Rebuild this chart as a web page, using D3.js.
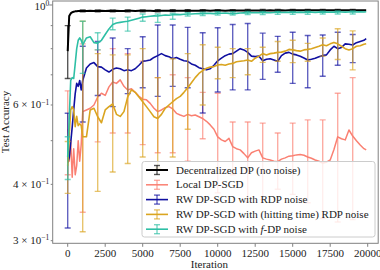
<!DOCTYPE html>
<html><head><meta charset="utf-8">
<script src="https://cdn.jsdelivr.net/npm/d3@7"></script>
<style>body{margin:0;background:#fff} svg{display:block}</style>
</head><body><svg id="c" width="380" height="270"></svg>
<script>
const iters = [0,100,200,300,400,500,600,700,800,900,1000,
1250,1500,1750,2000,2250,2500,2750,3000,
3250,3500,3750,4000,4250,4500,4750,5000,
5250,5500,5750,6000,6250,6500,6750,7000,
7250,7500,7750,8000,8250,8500,8750,9000,
9250,9500,9750,10000,10250,10500,10750,11000,
11250,11500,11750,12000,12250,12500,12750,13000,
13250,13500,13750,14000,14250,14500,14750,15000,
15250,15500,15750,16000,16250,16500,16750,17000,
17250,17500,17750,18000,18250,18500,18750,19000,
19250,19500,19750,19900];

const decentralized = [0.79,0.945,0.958,0.964,0.966,0.968,0.969,0.970,0.970,0.970,0.970,
0.970,0.971,0.970,0.970,0.971,0.970,0.971,0.970,
0.971,0.970,0.970,0.971,0.971,0.970,0.971,0.971,
0.971,0.971,0.970,0.971,0.971,0.971,0.971,0.971,
0.971,0.971,0.971,0.972,0.971,0.971,0.971,0.972,
0.972,0.971,0.972,0.972,0.972,0.971,0.972,0.972,
0.972,0.972,0.972,0.972,0.972,0.972,0.972,0.972,
0.972,0.973,0.972,0.972,0.973,0.972,0.973,0.973,
0.973,0.973,0.973,0.973,0.973,0.973,0.973,0.973,
0.973,0.973,0.973,0.974,0.973,0.973,0.974,0.974,
0.974,0.974,0.974,0.974];

const localDP = [0.53,0.45,0.50,0.415,0.48,0.42,0.44,0.50,0.45,0.49,0.58,
0.585,0.59,0.60,0.625,0.637,0.63,0.658,0.675,
0.67,0.682,0.66,0.648,0.652,0.64,0.627,0.618,
0.616,0.605,0.59,0.58,0.585,0.592,0.595,0.588,
0.575,0.57,0.566,0.572,0.568,0.57,0.565,0.56,
0.552,0.542,0.53,0.51,0.502,0.498,0.506,0.485,
0.48,0.477,0.468,0.458,0.47,0.474,0.477,0.458,
0.455,0.453,0.45,0.449,0.455,0.458,0.462,0.463,
0.465,0.466,0.464,0.46,0.457,0.453,0.45,0.446,
0.448,0.453,0.478,0.51,0.505,0.502,0.528,0.512,
0.50,0.489,0.48,0.477];

const rwRDP = [0.447,0.458,0.495,0.536,0.585,0.636,0.67,0.66,0.68,0.648,0.68,
0.725,0.74,0.745,0.73,0.728,0.718,0.71,0.72,
0.725,0.722,0.715,0.718,0.715,0.722,0.735,0.75,
0.752,0.755,0.765,0.772,0.78,0.772,0.768,0.76,
0.765,0.758,0.752,0.75,0.74,0.735,0.726,0.722,
0.718,0.722,0.735,0.752,0.762,0.772,0.778,0.78,
0.79,0.80,0.795,0.785,0.77,0.768,0.77,0.752,
0.758,0.76,0.755,0.75,0.772,0.782,0.785,0.778,
0.775,0.77,0.763,0.755,0.758,0.762,0.768,0.772,
0.775,0.795,0.81,0.80,0.805,0.82,0.818,0.815,
0.825,0.83,0.835,0.842];

const rwHitting = [0.44,0.515,0.585,0.595,0.585,0.537,0.566,0.54,0.545,0.54,0.51,
0.51,0.585,0.59,0.565,0.548,0.585,0.595,0.603,
0.572,0.566,0.58,0.625,0.648,0.64,0.625,0.61,
0.595,0.58,0.565,0.56,0.572,0.59,0.60,0.61,
0.62,0.627,0.64,0.655,0.672,0.69,0.705,0.715,
0.724,0.728,0.73,0.736,0.738,0.735,0.74,0.742,
0.748,0.75,0.752,0.755,0.75,0.762,0.77,0.78,
0.775,0.78,0.782,0.785,0.786,0.79,0.797,0.795,
0.792,0.79,0.795,0.797,0.80,0.805,0.81,0.816,
0.812,0.82,0.826,0.82,0.81,0.80,0.795,0.80,
0.81,0.812,0.818,0.82];

const rwFDP = [0.46,0.56,0.68,0.69,0.687,0.74,0.80,0.835,0.845,0.835,0.816,
0.845,0.85,0.825,0.823,0.835,0.86,0.885,0.905,
0.912,0.915,0.918,0.92,0.925,0.93,0.935,0.94,
0.942,0.944,0.946,0.945,0.948,0.95,0.949,0.951,
0.953,0.952,0.954,0.955,0.955,0.956,0.957,0.956,
0.958,0.958,0.957,0.959,0.959,0.96,0.958,0.957,
0.958,0.96,0.961,0.96,0.961,0.962,0.961,0.962,
0.962,0.961,0.962,0.963,0.962,0.963,0.963,0.962,
0.963,0.964,0.963,0.964,0.964,0.963,0.964,0.964,
0.964,0.965,0.964,0.965,0.965,0.964,0.965,0.965,
0.965,0.966,0.965,0.966];

// error bars every 1000 iterations
const errIters = [0,1000,2000,3000,4000,5000,6000,7000,8000,9000,10000,11000,12000,13000,14000,15000,16000,17000,18000,19000];
const decLo = [0.687,0.966,0.966,0.966,0.966,0.966,0.966,0.967,0.967,0.967,0.967,0.967,0.967,0.968,0.968,0.968,0.968,0.968,0.969,0.969];
const decHi = [0.90,0.975,0.975,0.975,0.975,0.975,0.976,0.976,0.976,0.976,0.976,0.976,0.977,0.977,0.977,0.977,0.977,0.978,0.978,0.978];
const localLo = [0.42,0.347,0.497,0.52,0.52,0.49,0.47,0.47,0.45,0.505,0.383,0.42,0.366,0.37,0.39,0.38,0.364,0.336,0.33,0.334];
const localHi = [0.645,0.82,0.795,0.80,0.78,0.75,0.69,0.70,0.69,0.64,0.637,0.55,0.55,0.547,0.52,0.547,0.556,0.556,0.637,0.69];
const rdpLo = [0.32,0.55,0.63,0.595,0.636,0.655,0.627,0.66,0.655,0.576,0.641,0.648,0.648,0.684,0.709,0.67,0.655,0.695,0.735,0.745];
const rdpHi = [0.575,0.81,0.83,0.845,0.80,0.85,0.903,0.903,0.892,0.868,0.89,0.905,0.91,0.866,0.852,0.87,0.856,0.858,0.87,0.86];
const hitLo = [0.382,0.314,0.386,0.426,0.445,0.46,0.435,0.46,0.53,0.60,0.686,0.69,0.70,0.746,0.75,0.745,0.75,0.77,0.757,0.718];
const hitHi = [0.498,0.92,0.78,0.775,0.775,0.80,0.69,0.76,0.78,0.816,0.806,0.80,0.80,0.806,0.83,0.835,0.822,0.845,0.886,0.876];
const fdpLo = [0.41,0.705,0.795,0.881,0.875,0.92,0.915,0.93,0.945,0.948,0.95,0.95,0.952,0.952,0.953,0.953,0.954,0.955,0.955,0.955];
const fdpHi = [0.51,0.92,0.868,0.935,0.94,0.955,0.955,0.958,0.962,0.964,0.966,0.966,0.968,0.968,0.968,0.968,0.969,0.969,0.97,0.97];

const seriesNames = ["Decentralized DP (no noise)","Local DP-SGD","RW DP-SGD with RDP noise","RW DP-SGD with (hitting time) RDP noise","RW DP-SGD with f-DP noise"];
const seriesColors = ["#000000","#fa8072","#1010a0","#daa520","#2ebfa5"];

const xTicks = [0,2500,5000,7500,10000,12500,15000,17500,20000];
const yTickValues = [1.0,0.6,0.4,0.3];
const yTickMant = ["","6 \u00d7 ","4 \u00d7 ","3 \u00d7 "];
const yTickExp = ["0","\u22121","\u22121","\u22121"];
const yMinorTicks = [0.5,0.7,0.8,0.9];

const series = [
  {name:seriesNames[0], vals:decentralized, lo:decLo, hi:decHi, color:seriesColors[0], w:2},
  {name:seriesNames[1], vals:localDP, lo:localLo, hi:localHi, color:seriesColors[1], w:1.5},
  {name:seriesNames[2], vals:rwRDP, lo:rdpLo, hi:rdpHi, color:seriesColors[2], w:1.6},
  {name:seriesNames[3], vals:rwHitting, lo:hitLo, hi:hitHi, color:seriesColors[3], w:1.6},
  {name:seriesNames[4], vals:rwFDP, lo:fdpLo, hi:fdpHi, color:seriesColors[4], w:1.6}
];

const FONT = "Liberation Serif, DejaVu Serif, serif";
const svg = d3.select('#c');
svg.append('rect').attr('width',380).attr('height',270).attr('fill','#fff');
const L=52.7, R=378.2, T=1, B=243.3;
const x = d3.scaleLinear().domain([-1000,20700]).range([L,R]);
const y = d3.scaleLog().domain([0.296,1.0206]).range([B,T]);

svg.append('clipPath').attr('id','clip').append('rect').attr('x',L).attr('y',T).attr('width',R-L).attr('height',B-T);
const plot = svg.append('g').attr('clip-path','url(#clip)');
const line = d3.line().x((d,i)=>x(iters[i])).y(d=>y(d));
const cap = 3;

series.forEach(s=>{
  const g = plot.append('g');
  const eb = g.append('g').attr('stroke',s.color).attr('stroke-opacity',0.65).attr('stroke-width',1.4);
  errIters.forEach((it,i)=>{
    const xx = x(it);
    eb.append('line').attr('x1',xx).attr('x2',xx).attr('y1',y(s.lo[i])).attr('y2',y(s.hi[i]));
    eb.append('line').attr('x1',xx-cap).attr('x2',xx+cap).attr('y1',y(s.lo[i])).attr('y2',y(s.lo[i]));
    eb.append('line').attr('x1',xx-cap).attr('x2',xx+cap).attr('y1',y(s.hi[i])).attr('y2',y(s.hi[i]));
  });
  g.append('path').datum(s.vals).attr('d',line).attr('fill','none').attr('stroke',s.color)
   .attr('stroke-width',s.w).attr('stroke-linejoin','round');
});

// axes frame
const axc = '#808080';
svg.append('rect').attr('x',L).attr('y',T).attr('width',R-L).attr('height',B-T)
  .attr('fill','none').attr('stroke',axc).attr('stroke-width',1);

// x ticks
const xg = svg.append('g');
xTicks.forEach(t=>{
  xg.append('line').attr('x1',x(t)).attr('x2',x(t)).attr('y1',B).attr('y2',B+3.5).attr('stroke',axc);
  xg.append('text').attr('x',x(t)).attr('y',256.5).attr('text-anchor','middle')
    .attr('font-family',FONT).attr('font-size',11).attr('fill','#222').text(t);
});
svg.append('text').attr('x',(L+R)/2 - 6).attr('y',267.5).attr('text-anchor','middle')
  .attr('font-family',FONT).attr('font-size',11).attr('fill','#222').text('Iteration');

// y ticks
const yg = svg.append('g');
yTickValues.forEach((v,i)=>{
  const len = v===1.0 ? 3.5 : 2;
  yg.append('line').attr('x1',L-len).attr('x2',L).attr('y1',y(v)).attr('y2',y(v)).attr('stroke',axc);
  const by = Math.max(y(v)+3.5, 9.5);
  const t = yg.append('text').attr('x',L-3.5).attr('y',by).attr('text-anchor','end')
    .attr('font-family',FONT).attr('font-size',11).attr('fill','#222');
  t.append('tspan').text(yTickMant[i] + '10');
  t.append('tspan').attr('dy',-3.8).attr('font-size',7.5).text(yTickExp[i]);
});
yMinorTicks.forEach(v=>{
  yg.append('line').attr('x1',L-2).attr('x2',L).attr('y1',y(v)).attr('y2',y(v)).attr('stroke',axc);
});
svg.append('text').attr('transform','translate(8.5,122) rotate(-90)').attr('text-anchor','middle')
  .attr('font-family',FONT).attr('font-size',11).attr('fill','#222').text('Test Accuracy');

// legend
const lg = svg.append('g');
lg.append('rect').attr('x',142).attr('y',161.5).attr('width',233).attr('height',75.5).attr('rx',2.5)
  .attr('fill','#fff').attr('fill-opacity',0.8).attr('stroke','#cccccc').attr('stroke-width',1);
series.forEach((s,i)=>{
  const cy = 170 + i*14.8;
  const hx1 = 146, hx2 = 168, hxm = 157;
  lg.append('line').attr('x1',hx1).attr('x2',hx2).attr('y1',cy).attr('y2',cy).attr('stroke',s.color).attr('stroke-width',s.w);
  const eb = lg.append('g').attr('stroke',s.color).attr('stroke-opacity',0.65).attr('stroke-width',1.4);
  eb.append('line').attr('x1',hxm).attr('x2',hxm).attr('y1',cy-4.5).attr('y2',cy+4.5);
  eb.append('line').attr('x1',hxm-cap).attr('x2',hxm+cap).attr('y1',cy-4.5).attr('y2',cy-4.5);
  eb.append('line').attr('x1',hxm-cap).attr('x2',hxm+cap).attr('y1',cy+4.5).attr('y2',cy+4.5);
  const t = lg.append('text').attr('x',176).attr('y',cy+3.6).attr('font-family',FONT).attr('font-size',11).attr('fill','#222');
  if (s.name.indexOf('f-DP')>=0) {
    const parts = s.name.split('f-DP');
    t.append('tspan').text(parts[0]);
    t.append('tspan').attr('font-style','italic').text('f');
    t.append('tspan').text('-DP' + parts[1]);
  } else {
    t.text(s.name);
  }
});
</script></body></html>
